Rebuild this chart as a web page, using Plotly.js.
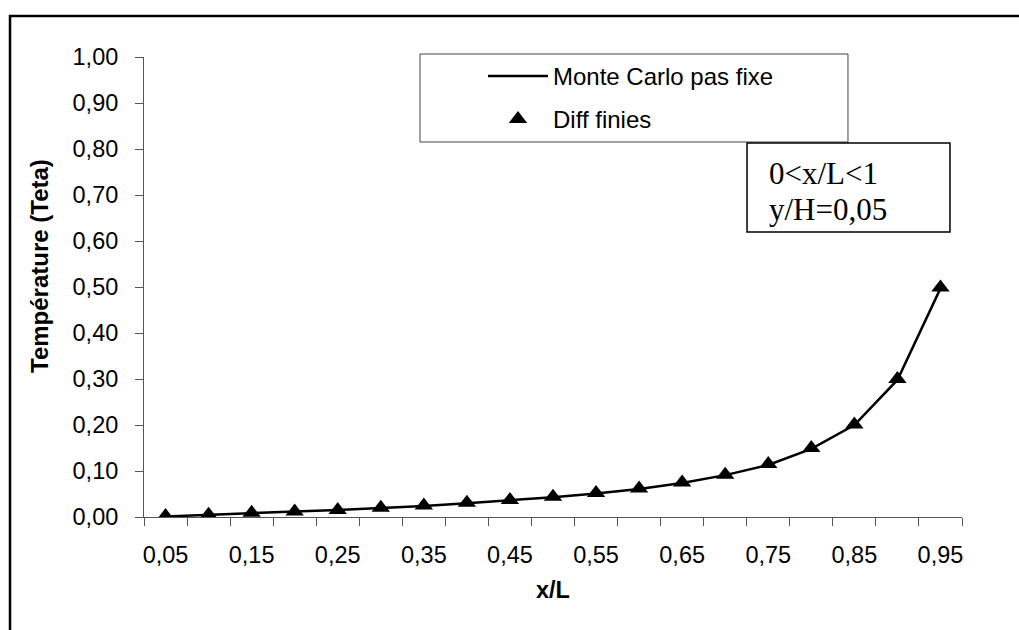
<!DOCTYPE html>
<html>
<head>
<meta charset="utf-8">
<script src="https://cdn.plot.ly/plotly-3.0.1.min.js"></script>
<style>
  html, body { margin: 0; padding: 0; background: #fff; }
  #chart { width: 1019px; height: 630px; }
</style>
</head>
<body>
<div id="chart"></div>
<script>
// Position along the plate (x/L), one category per sample point
const categories = ['0,05','0,10','0,15','0,20','0,25','0,30','0,35','0,40','0,45','0,50',
                    '0,55','0,60','0,65','0,70','0,75','0,80','0,85','0,90','0,95'];
// Only every other category carries a label
const xTickLabels = ['0,05','','0,15','','0,25','','0,35','','0,45','',
                     '0,55','','0,65','','0,75','','0,85','','0,95'];

// Dimensionless temperature, Monte Carlo with fixed step
const monteCarlo = [0.001, 0.005, 0.008, 0.012, 0.015, 0.019, 0.024, 0.030, 0.036, 0.043,
                    0.051, 0.061, 0.074, 0.091, 0.113, 0.148, 0.200, 0.298, 0.497];
// Dimensionless temperature, finite differences
const diffFinies = [0.002, 0.005, 0.009, 0.012, 0.015, 0.020, 0.025, 0.031, 0.037, 0.044,
                    0.052, 0.062, 0.075, 0.092, 0.115, 0.150, 0.201, 0.300, 0.499];

const sans = 'Liberation Sans, Arial, sans-serif';
const serif = 'Liberation Serif, Times New Roman, serif';

const traces = [
  {
    x: categories, y: monteCarlo, type: 'scatter', mode: 'lines',
    name: 'Monte Carlo pas fixe', legendgroup: 'mc',
    line: { color: '#000', width: 2.5 }
  },
  {
    x: categories, y: diffFinies, type: 'scatter', mode: 'markers',
    name: 'Diff finies', legendgroup: 'df',
    marker: { symbol: 'triangle-up', size: 16, color: '#000' }
  }
];

const layout = {
  width: 1019, height: 630,
  margin: { l: 144, r: 57, t: 57, b: 113 },
  paper_bgcolor: '#fff', plot_bgcolor: '#fff',
  separators: ', ',
  font: { family: sans, size: 23.5, color: '#000' },
  showlegend: true,
  legend: {
    x: 0.4144, y: 1.007, xanchor: 'left', yanchor: 'top',
    bgcolor: 'rgba(0,0,0,0)', borderwidth: 0,
    font: { family: sans, size: 24, color: '#000' },
    itemwidth: 60,
    traceorder: 'grouped', tracegroupgap: 9
  },
  xaxis: {
    type: 'category', range: [-0.5, 18.5], autorange: false,
    tickmode: 'array', tickvals: categories, ticktext: xTickLabels, tickangle: 0,
    tickson: 'boundaries', ticks: 'outside', ticklen: 8, tickcolor: '#555', tickwidth: 1,
    showline: true, linecolor: '#555', linewidth: 1,
    showgrid: false, zeroline: false,
    ticklabelstandoff: 17,
    tickfont: { family: sans, size: 23.5, color: '#000' },
    title: { text: '<b>x/L</b>', font: { family: sans, size: 23.5, color: '#000' }, standoff: 14 }
  },
  yaxis: {
    range: [0, 1], dtick: 0.1, tickformat: '.2f',
    ticks: 'outside', ticklen: 8, tickcolor: '#555', tickwidth: 1,
    showline: true, linecolor: '#555', linewidth: 1,
    showgrid: false, zeroline: false,
    ticklabelstandoff: 12,
    tickfont: { family: sans, size: 23.5, color: '#000' }
  },
  shapes: [
    // chart frame (continues past the right and bottom edges)
    { type: 'rect', xref: 'paper', yref: 'paper',
      x0: -0.1638, x1: 1.09, y0: -0.28, y1: 1.0891,
      line: { color: '#000', width: 2.5 } },
    // legend box
    { type: 'rect', xref: 'paper', yref: 'paper',
      x0: 0.3374, x1: 0.8606, y0: 0.8152, y1: 1.0065,
      line: { color: '#444', width: 1 }, fillcolor: 'rgba(0,0,0,0)' },
    // parameter box
    { type: 'rect', xref: 'paper', yref: 'paper',
      x0: 0.7372, x1: 0.9853, y0: 0.6196, y1: 0.8130,
      line: { color: '#000', width: 1.5 }, fillcolor: '#fff' }
  ],
  annotations: [
    // vertical axis title
    { xref: 'paper', yref: 'paper', x: -0.127, y: 0.546, xanchor: 'center', yanchor: 'middle',
      text: '<b>Température (Teta)</b>', textangle: -90, showarrow: false,
      font: { family: sans, size: 24, color: '#000' } },
    { xref: 'paper', yref: 'paper', x: 0.7616, y: 0.7478, xanchor: 'left', yanchor: 'middle',
      text: '0&lt;x/L&lt;1', showarrow: false,
      font: { family: serif, size: 31, color: '#000' } },
    { xref: 'paper', yref: 'paper', x: 0.7616, y: 0.6674, xanchor: 'left', yanchor: 'middle',
      text: 'y/H=0,05', showarrow: false,
      font: { family: serif, size: 31, color: '#000' } }
  ]
};

Plotly.newPlot('chart', traces, layout, { displayModeBar: false, staticPlot: true });
</script>
</body>
</html>
